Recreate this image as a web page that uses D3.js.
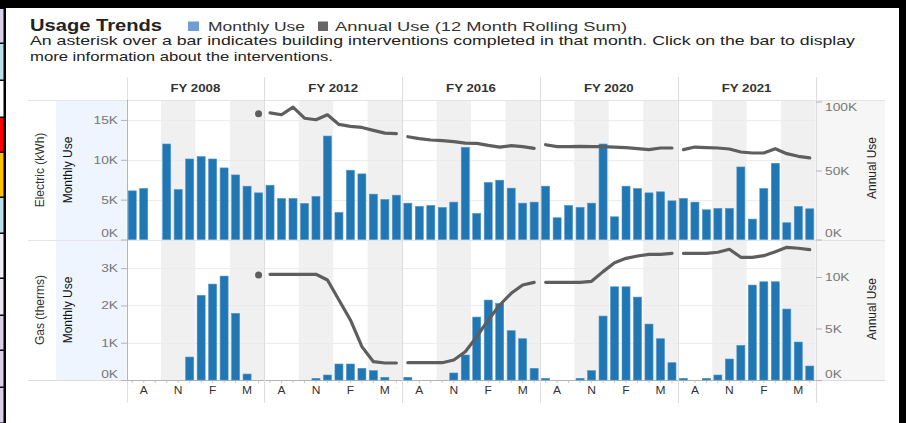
<!DOCTYPE html>
<html>
<head>
<meta charset="utf-8">
<script src="https://cdn.jsdelivr.net/npm/d3@7"></script>
<style>
  body { margin: 0; background: #000; }
  text { font-family: "Liberation Sans", Arial, sans-serif; }
</style>
</head>
<body>
<svg id="chart" width="906" height="423"></svg>
<script>
// Fiscal years run July..June, one pane per year.
var fiscalYears = ["FY 2008", "FY 2012", "FY 2016", "FY 2020", "FY 2021"];
var monthLabels = ["", "A", "", "", "N", "", "", "F", "", "", "M", ""];

// Electric (kWh), monthly use per fiscal year
var elecMonthly = [
    [6100, 6400, null, 11980, 6270, 10100, 10400, 10100, 8980, 8100, 6690, 5850],
    [6810, 5150, 5150, 4520, 5400, 12980, 3400, 8690, 8230, 5690, 5020, 5560],
    [4560, 4150, 4270, 4020, 4690, 11560, 3270, 7150, 7440, 6440, 4560, 4690],
    [6690, 2730, 4270, 4020, 4560, 11980, 2850, 6690, 6400, 5850, 5980, 4850],
    [5150, 4690, 3730, 3900, 3900, 9100, 2560, 6400, 9560, 2100, 4150, 3850]
];
// Electric (kWh), 12 month rolling sum
var elecAnnual = [
    [null, null, null, null, null, null, null, null, null, null, null, 91100],
    [91800, 90400, 95900, 87900, 86800, 90400, 83400, 82000, 81200, 79100, 77100, 76700],
    [74500, 73100, 72100, 71600, 70900, 69900, 69700, 68200, 67000, 68000, 67300, 66100],
    [68700, 67300, 67300, 67500, 67300, 67300, 67000, 66600, 65800, 65100, 66300, 66300],
    [65100, 67000, 66600, 66300, 65600, 63400, 62700, 62700, 65800, 62200, 60300, 59100]
];
// Gas (therms), monthly use per fiscal year
var gasMonthly = [
    [0, 0, 0, 0, 0, 616, 2270, 2573, 2787, 1787, 160, 0],
    [0, 0, 0, 0, 45, 134, 429, 429, 313, 250, 72, 0],
    [72, 0, 0, 0, 188, 670, 1688, 2144, 2054, 1322, 1107, 313],
    [45, 0, 0, 45, 250, 1715, 2500, 2500, 2224, 1500, 1107, 464],
    [45, 0, 45, 134, 563, 929, 2546, 2635, 2635, 1903, 1018, 375]
];
// Gas (therms), 12 month rolling sum
var gasAnnual = [
    [null, null, null, null, null, null, null, null, null, null, null, 10200],
    [10260, 10260, 10260, 10260, 10260, 9710, 7770, 5830, 3240, 1780, 1650, 1650],
    [1680, 1680, 1680, 1680, 1940, 2750, 4200, 5830, 7280, 8420, 9220, 9480],
    [9480, 9480, 9480, 9480, 9580, 10520, 11390, 11810, 12040, 12200, 12200, 12300],
    [12300, 12300, 12300, 12400, 12690, 11910, 11910, 12070, 12460, 12880, 12790, 12650]
];
var elecTicks = [0, 5000, 10000, 15000],
    elecAnnualTicks = [0, 50000, 100000],
    gasTicks = [0, 1000, 2000, 3000],
    gasAnnualTicks = [0, 5000, 10000];

// Colour swatches down the left edge of the screenshot
var edgeColors = ["#d9cfe7", "#b9dfe9", "#ffffff", "#ff0000", "#ffc000", "#b9dfe9",
                  "#f1edf6", "#ebe5f2", "#d9cfe7", "#d9cfe7", "#d9cfe7"];
var edgeStops = [8, 43, 80, 117, 152, 197, 233, 278, 315, 350, 387, 423];

var svg = d3.select("#chart");
var BAR = "#2177b4", LINE = "#5e5e5e", GRID = "#ececec", SHADE = "#f0f0f0";

// Stretch a text selection horizontally (the screenshot's text is wide).
function widen(sel, k) {
    sel.each(function () {
        var w = this.getComputedTextLength();
        d3.select(this).attr("textLength", w * k).attr("lengthAdjust", "spacingAndGlyphs");
    });
    return sel;
}

// Frame
svg.append("rect").attr("width", 906).attr("height", 423).attr("fill", "#000");
svg.append("rect").attr("x", 6).attr("y", 8).attr("width", 893).attr("height", 415).attr("fill", "#fff");
svg.append("g").selectAll("rect")
    .data(edgeColors)
  .enter().append("rect")
    .attr("x", 0)
    .attr("y", function (d, i) { return edgeStops[i] + 1; })
    .attr("width", 3.5)
    .attr("height", function (d, i) { return edgeStops[i + 1] - edgeStops[i] - 1.5; })
    .attr("fill", function (d) { return d; });

// Title, legend and note
svg.append("text").attr("x", 30).attr("y", 31).attr("font-size", 16).attr("font-weight", "bold")
    .attr("fill", "#222").attr("textLength", 132).attr("lengthAdjust", "spacingAndGlyphs")
    .text("Usage Trends");
svg.append("rect").attr("x", 188).attr("y", 21.5).attr("width", 11).attr("height", 9.5).attr("fill", "#6f9ed3");
svg.append("text").attr("x", 208).attr("y", 31).attr("font-size", 13).attr("fill", "#333")
    .attr("textLength", 97).attr("lengthAdjust", "spacingAndGlyphs")
    .text("Monthly Use");
svg.append("rect").attr("x", 318).attr("y", 21.5).attr("width", 10).attr("height", 9.5).attr("fill", "#666");
svg.append("text").attr("x", 335).attr("y", 31).attr("font-size", 13).attr("fill", "#333")
    .attr("textLength", 292).attr("lengthAdjust", "spacingAndGlyphs")
    .text("Annual Use (12 Month Rolling Sum)");
svg.append("text").attr("x", 30).attr("y", 45).attr("font-size", 13).attr("fill", "#222")
    .attr("textLength", 825).attr("lengthAdjust", "spacingAndGlyphs")
    .text("An asterisk over a bar indicates building interventions completed in that month. Click on the bar to display");
svg.append("text").attr("x", 30).attr("y", 60.5).attr("font-size", 13).attr("fill", "#222")
    .attr("textLength", 303).attr("lengthAdjust", "spacingAndGlyphs")
    .text("more information about the interventions.");

// Scales
var x0 = 126.5, x1 = 815.5;
var colX = d3.scaleBand().domain(fiscalYears).range([x0, x1]);
var monthX = d3.scaleBand().domain(d3.range(12)).range([0, colX.bandwidth()])
    .paddingInner(0.3).paddingOuter(0.15);

var elecTop = 100, elecBase = 239.5, gasTop = 240, gasBase = 380;
var yElec = d3.scaleLinear().domain([0, 17500]).range([elecBase, elecTop]);
var yElecAnnual = d3.scaleLinear().domain([0, 101100]).range([elecBase, elecTop]);
var yGas = d3.scaleLinear().domain([0, 3755]).range([gasBase, gasTop]);
var yGasAnnual = d3.scaleLinear().domain([0, 13590]).range([gasBase, gasTop]);

// Side backgrounds
svg.append("rect").attr("x", 56).attr("y", 100).attr("width", x0 - 56).attr("height", 280).attr("fill", "#eef5fe");
svg.append("rect").attr("x", x1).attr("y", 100).attr("width", 885 - x1).attr("height", 280).attr("fill", "#f6f6f6");

// Quarter shading inside each pane
fiscalYears.forEach(function (fy) {
    [3, 9].forEach(function (m) {
        svg.append("rect")
            .attr("x", colX(fy) + monthX.step() * m)
            .attr("y", elecTop)
            .attr("width", monthX.step() * 3)
            .attr("height", gasBase - elecTop)
            .attr("fill", SHADE);
    });
});

// Horizontal gridlines
function gridlines(scale, ticks) {
    svg.append("g").selectAll("line")
        .data(ticks.filter(function (t) { return t > 0; }))
      .enter().append("line")
        .attr("x1", x0).attr("x2", x1)
        .attr("y1", function (d) { return Math.round(scale(d)) + 0.5; })
        .attr("y2", function (d) { return Math.round(scale(d)) + 0.5; })
        .attr("stroke", GRID);
}
gridlines(yElec, elecTicks);
gridlines(yGas, gasTicks);

// Row separators and pane dividers
[100, 240, 380].forEach(function (y) {
    svg.append("line").attr("x1", 28).attr("x2", 885).attr("y1", y + 0.5).attr("y2", y + 0.5)
        .attr("stroke", y == 380 ? "#dcdcdc" : "#e4e4e4");
});
svg.append("line").attr("x1", x0).attr("x2", x1).attr("y1", 380.5).attr("y2", 380.5).attr("stroke", "#b4b4b4");
fiscalYears.forEach(function (fy) {
    var x = Math.round(colX(fy) + colX.bandwidth()) + 0.5;
    svg.append("line").attr("x1", x).attr("x2", x).attr("y1", 77).attr("y2", 403).attr("stroke", "#dddddd");
});
svg.append("line").attr("x1", 127.5).attr("x2", 127.5).attr("y1", 77).attr("y2", 403).attr("stroke", "#e2e2e2");
svg.append("line").attr("x1", 127.5).attr("x2", 127.5).attr("y1", 100).attr("y2", 381).attr("stroke", "#b4b4b4");

// Column headers
widen(svg.append("g").selectAll("text")
    .data(fiscalYears)
  .enter().append("text")
    .attr("x", function (d) { return colX(d) + colX.bandwidth() / 2; })
    .attr("y", 92)
    .attr("text-anchor", "middle")
    .attr("font-size", 11.5)
    .attr("font-weight", "bold")
    .attr("fill", "#333")
    .text(function (d) { return d; }), 1.15);

// Monthly bars, one pane per fiscal year
function drawBars(monthly, y) {
    fiscalYears.forEach(function (fy, c) {
        svg.append("g").attr("transform", "translate(" + colX(fy) + ",0)")
          .selectAll("rect")
            .data(monthly[c].map(function (v, i) { return { m: i, v: v }; })
                .filter(function (d) { return d.v; }))
          .enter().append("rect")
            .attr("x", function (d) { return monthX(d.m); })
            .attr("y", function (d) { return y(d.v); })
            .attr("width", monthX.bandwidth())
            .attr("height", function (d) { return y(0) - y(d.v); })
            .attr("fill", BAR)
            .attr("stroke", "#4f93c9")
            .attr("stroke-width", 0.6);
    });
}

// Rolling-sum lines; a lone point shows as a dot
function drawLines(annual, yAnnual) {
    var mid = function (i) { return monthX(i) + monthX.bandwidth() / 2; };
    var line = d3.line()
        .defined(function (d) { return d != null; })
        .x(function (d, i) { return mid(i); })
        .y(function (d) { return yAnnual(d); });

    fiscalYears.forEach(function (fy, c) {
        var pane = svg.append("g").attr("transform", "translate(" + colX(fy) + ",0)");
        pane.append("path")
            .attr("d", line(annual[c]))
            .attr("fill", "none")
            .attr("stroke", LINE)
            .attr("stroke-width", 3.2)
            .attr("stroke-linejoin", "round")
            .attr("stroke-linecap", "round");

        annual[c].forEach(function (d, i) {
            if (d != null && annual[c][i - 1] == null && annual[c][i + 1] == null) {
                pane.append("circle")
                    .attr("cx", mid(i))
                    .attr("cy", yAnnual(d))
                    .attr("r", 3.5)
                    .attr("fill", LINE);
            }
        });
    });
}
drawBars(elecMonthly, yElec);
drawBars(gasMonthly, yGas);
drawLines(elecAnnual, yElecAnnual);
drawLines(gasAnnual, yGasAnnual);

// Axes
function kFormat(d) { return (d / 1000) + "K"; }
function axis(gen, x, scale, ticks, endShift) {
    var g = svg.append("g")
        .attr("transform", "translate(" + x + ",0)")
        .call(gen(scale).tickValues(ticks).tickFormat(kFormat).tickSize(6).tickPadding(3));
    g.select(".domain").remove();
    g.selectAll(".tick line").attr("stroke", "#b4b4b4");
    g.selectAll(".tick text")
        .attr("font-family", null)
        .attr("font-size", 11)
        .attr("fill", "#777")
        .attr("dy", function (d) {
            if (d == 0) return "-0.25em";
            if (endShift && d == ticks[ticks.length - 1]) return "0.8em";
            return "0.32em";
        });
    widen(g.selectAll(".tick text"), 1.25);
    return g;
}
axis(d3.axisLeft, 127, yElec, elecTicks, false);
axis(d3.axisLeft, 127, yGas, gasTicks, false);
axis(d3.axisRight, 816, yElecAnnual, elecAnnualTicks, true);
axis(d3.axisRight, 816, yGasAnnual, gasAnnualTicks, false);

// Month labels along the bottom
fiscalYears.forEach(function (fy) {
    var g = svg.append("g").attr("transform", "translate(" + colX(fy) + ",0)");
    g.selectAll("line")
        .data(d3.range(12))
      .enter().append("line")
        .attr("x1", function (m) { return monthX(m) + monthX.bandwidth() / 2; })
        .attr("x2", function (m) { return monthX(m) + monthX.bandwidth() / 2; })
        .attr("y1", 381).attr("y2", 383)
        .attr("stroke", "#c8c8c8");
    widen(g.selectAll("text")
        .data(monthLabels.map(function (t, i) { return { m: i, t: t }; })
            .filter(function (d) { return d.t; }))
      .enter().append("text")
        .attr("x", function (d) { return monthX(d.m) + monthX.bandwidth() / 2; })
        .attr("y", 394)
        .attr("text-anchor", "middle")
        .attr("font-size", 10)
        .attr("fill", "#333")
        .text(function (d) { return d.t; }), 1.2);
});

// Axis titles
function vText(x, y, str, size, fill) {
    return svg.append("text")
        .attr("transform", "translate(" + x + "," + y + ") rotate(-90)")
        .attr("text-anchor", "middle")
        .attr("font-size", size)
        .attr("fill", fill)
        .text(str);
}
vText(44, 170, "Electric (kWh)", 12, "#333");
vText(72, 170, "Monthly Use", 12, "#111");
vText(44, 310, "Gas (therms)", 12, "#333");
vText(72, 310, "Monthly Use", 12, "#111");
vText(876, 168, "Annual Use", 12, "#222");
vText(876, 309, "Annual Use", 12, "#222");
</script>
</body>
</html>
